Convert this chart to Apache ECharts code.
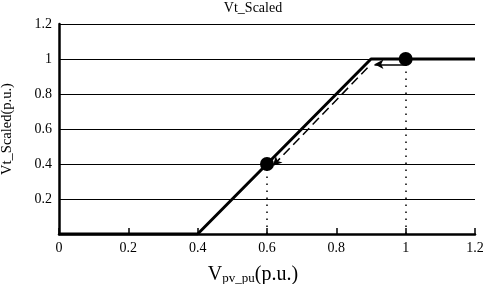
<!DOCTYPE html>
<html>
<head>
<meta charset="utf-8">
<script src="https://cdn.jsdelivr.net/npm/echarts@6/dist/echarts.min.js"></script>
<style>
  html, body { margin: 0; padding: 0; background: #fff; }
  #chart { width: 486px; height: 284px; }
</style>
</head>
<body>
<div id="chart"></div>
<script>
// characteristic curve
var vpv = [0, 0.4, 0.9, 1.2];
var vt = [0, 0, 1, 1];
// marked operating points
var dotX = [0.6, 1];
var dotY = [0.4, 1];
// arrows (start -> end)
var arrowH = [[1.0, 0.97], [0.91, 0.97]];
var arrowD = [[0.89, 0.95], [0.617, 0.39]];

var font = 'Liberation Serif';
var chart = echarts.init(document.getElementById('chart'));

var curve = vpv.map(function (x, i) { return [x, vt[i]]; });
var dots = dotX.map(function (x, i) { return [x, dotY[i]]; });

var option = {
  animation: false,
  backgroundColor: '#fff',
  title: {
    text: 'Vt_Scaled',
    left: 248,
    top: -4,
    textAlign: 'center',
    textStyle: { fontFamily: font, fontSize: 14, fontWeight: 'normal', color: '#000' }
  },
  grid: { left: 59, right: 11, top: 24, bottom: 50, containLabel: false, outerBoundsMode: 'none' },
  xAxis: {
    type: 'value',
    min: 0,
    max: 1.2,
    interval: 0.2,
    name: '{a|V}{b|pv_pu}{a|(p.u.)}',
    nameLocation: 'middle',
    nameGap: 30,
    nameTextStyle: {
      padding: [0, 28, 0, 0],
      rich: {
        a: { fontFamily: font, fontSize: 20, color: '#000' },
        b: { fontFamily: font, fontSize: 13, color: '#000', padding: [8, 0, 0, 0] }
      }
    },
    axisLine: { lineStyle: { color: '#000', width: 2.5 } },
    axisTick: { inside: true, length: 6, lineStyle: { color: '#000', width: 1.5 } },
    axisLabel: {
      fontFamily: font, fontSize: 14, color: '#000', margin: 7,
      formatter: function (v) { return String(+v.toFixed(1)); }
    },
    splitLine: { show: false }
  },
  yAxis: {
    type: 'value',
    min: 0,
    max: 1.2,
    interval: 0.2,
    name: 'Vt_Scaled(p.u.)',
    nameLocation: 'middle',
    nameGap: 44,
    nameTextStyle: { fontFamily: font, fontSize: 14.5, color: '#000' },
    axisLine: { show: true, lineStyle: { color: '#000', width: 2.5 } },
    axisTick: { show: false },
    axisLabel: {
      fontFamily: font, fontSize: 14, color: '#000', margin: 7,
      formatter: function (v) { return v === 0 ? '' : String(+v.toFixed(1)); }
    },
    splitLine: { show: true, lineStyle: { color: '#000', width: 1 } }
  },
  series: [
    {
      type: 'line',
      data: curve,
      symbol: 'none',
      lineStyle: { color: '#000', width: 3 },
      z: 3,
      markLine: {
        silent: true,
        symbol: ['none', 'arrow'],
        symbolSize: [7, 9],
        label: { show: false },
        lineStyle: { color: '#000', width: 1.5, type: 'solid' },
        data: [
          [{ coord: arrowH[0] }, { coord: arrowH[1] }],
          [{ coord: arrowD[0], lineStyle: { type: [9, 5] } }, { coord: arrowD[1] }]
        ]
      }
    },
    {
      type: 'line',
      data: [],
      markLine: {
        silent: true,
        symbol: ['none', 'none'],
        label: { show: false },
        lineStyle: { color: '#000', width: 1.5, type: [1.5, 5.5] },
        data: dots.map(function (p) {
          return [{ coord: [p[0], 0] }, { coord: p }];
        })
      }
    },
    {
      type: 'scatter',
      data: dots,
      symbolSize: 14,
      itemStyle: { color: '#000', opacity: 1 },
      z: 5
    }
  ]
};

chart.setOption(option);
</script>
</body>
</html>
